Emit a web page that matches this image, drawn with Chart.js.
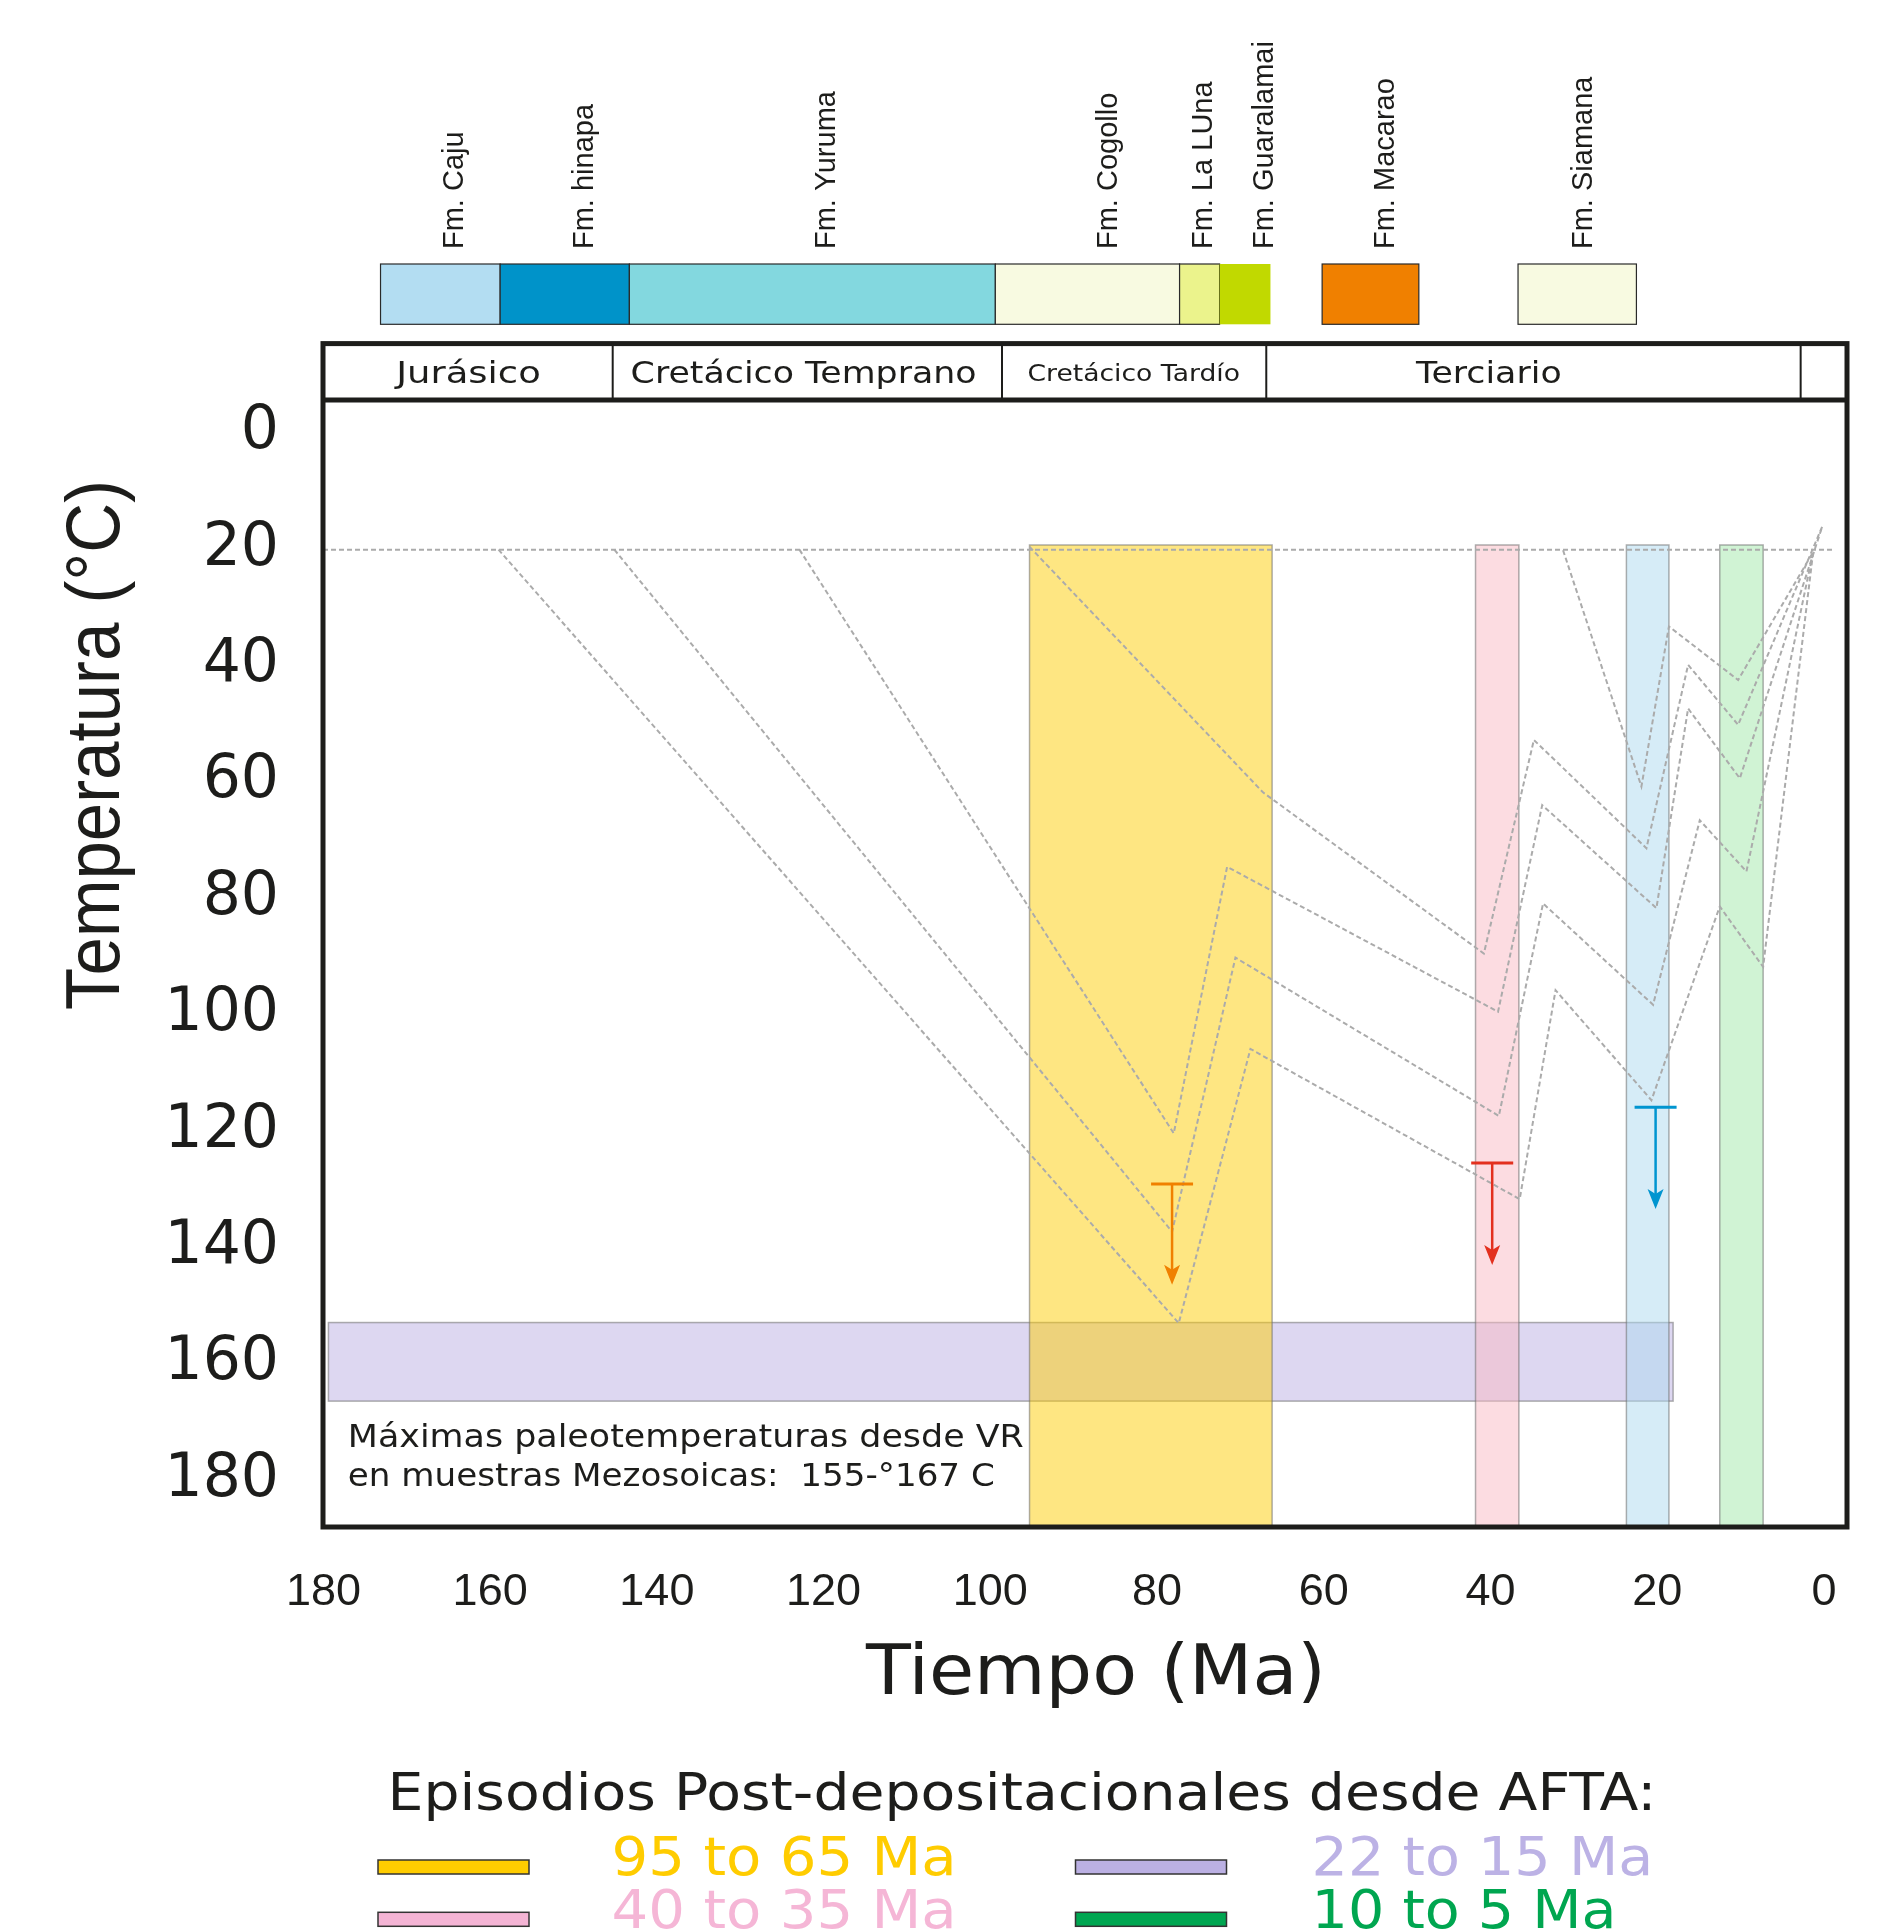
<!DOCTYPE html>
<html>
<head>
<meta charset="utf-8">
<script src="https://cdn.jsdelivr.net/npm/chart.js@4.4.0/dist/chart.umd.min.js"></script>
<style>
  html, body { margin: 0; padding: 0; background: #fff; }
  #wrap { width: 1899px; height: 1931px; }
</style>
</head>
<body>
<div id="wrap"><canvas id="chart" width="1899" height="1931"></canvas></div>
<script>
// ticks
const xTicks = [180, 160, 140, 120, 100, 80, 60, 40, 20, 0];
const yTicks = [0, 20, 40, 60, 80, 100, 120, 140, 160, 180];

// superficie (20 °C)
const surfaceAge = [180.05, -1.3];
const surfaceTemp = [20.8, 20.8];

// trayectorias termicas (edad Ma / temperatura °C)
const pathA_age  = [159.0, 77.4, 68.8, 36.5, 32.2, 20.7, 12.5, 7.3, 1.3];
const pathA_temp = [20.8, 153.7, 106.6, 132.4, 96.5, 115.4, 82.1, 92.5, 21.2];
const pathB_age  = [145.1, 78.2, 70.6, 39.0, 33.7, 20.5, 14.9, 9.3, 1.3];
const pathB_temp = [20.8, 138.0, 90.9, 118.1, 81.6, 99.0, 67.3, 76.1, 21.2];
const pathC_age  = [122.9, 78.0, 71.6, 39.1, 33.8, 20.1, 16.3, 10.1, 0.2];
const pathC_temp = [20.8, 121.1, 75.3, 100.2, 64.7, 82.4, 48.1, 60.1, 16.8];
const pathD_age  = [95.3, 67.3, 40.8, 34.8, 21.3, 16.3, 10.3, 0.2];
const pathD_temp = [20.3, 62.5, 90.2, 53.5, 72.1, 40.6, 50.9, 16.8];
const pathE_age  = [31.3, 21.9, 18.6, 10.3, 1.3];
const pathE_temp = [20.9, 61.5, 34.0, 43.2, 21.2];

// episodios AFTA (bandas verticales)
const bandFrom = [95.3, 41.8, 23.7, 12.5];
const bandTo   = [66.2, 36.6, 18.6, 7.3];
const bandTopTemp = 20;
const bandColors = ['rgba(252,204,0,0.49)', 'rgba(250,185,195,0.5)', 'rgba(173,217,239,0.5)', 'rgba(161,231,169,0.5)'];

// maximas paleotemperaturas VR
const vrAge = [179.4, 18.1];
const vrTemp = [153.6, 167.1];

// flechas (temperatura minima)
const arrowAge = [78.2, 39.8, 20.2];
const arrowTop = [129.8, 126.2, 116.6];
const arrowTip = [147.1, 143.7, 134.1];
const arrowColors = ['#F08000', '#E3301E', '#0095D0'];

// periodos
const periodNames  = ['Jurásico', 'Cretácico Temprano', 'Cretácico Tardío', 'Terciario'];
const periodBounds = [180.05, 145.3, 98.6, 66.9, 2.8, -2.76];
const periodLabelAt = [162.6, 122.4, 82.8, 40.2];

// formaciones
const formationNames = ['Fm. Caju', 'Fm. hinapa', 'Fm. Yuruma', 'Fm. Cogollo', 'Fm. La LUna', 'Fm. Guaralamai', 'Fm. Macarao', 'Fm. Siamana'];
const formationFrom = [173.15, 158.8, 143.3, 99.4, 77.3, 72.5, 60.2, 36.7];
const formationTo   = [158.8, 143.3, 99.4, 77.3, 72.5, 66.4, 48.6, 22.5];
const formationLabelAt = [163.2, 147.7, 118.6, 84.8, 73.4, 66.1, 51.6, 27.8];
const formationColors = ['#B3DDF2', '#0093C9', '#83D8DF', '#F8FAE1', '#EBF38C', '#C1D900', '#F08000', '#F8FAE1'];

// leyenda
const legendLabels = ['95 to 65 Ma', '22 to 15 Ma', '40 to 35 Ma', '10 to 5 Ma'];
const legendTextColors = ['#FFCC00', '#BCB2E5', '#F5B6D6', '#00A650'];
const legendSwatchColors = ['#FFCC00', '#BBB0E3', '#F4B4D4', '#00A651'];

const INK = '#1d1d1b';

function pts(ages, temps) {
    return ages.map((a, i) => ({ x: a, y: temps[i] }));
}

function dashed(ages, temps) {
    return {
        data: pts(ages, temps),
        showLine: true,
        borderColor: '#ABABAB',
        borderWidth: 2,
        borderDash: [5, 3],
        pointRadius: 0,
        tension: 0
    };
}

// texto ajustado a un ancho dado
function fitText(ctx, text, x, y, size, family, width, align, rot) {
    ctx.save();
    ctx.font = size + 'px "' + family + '"';
    const w = ctx.measureText(text).width;
    const k = width ? width / w : 1;
    ctx.translate(x, y);
    if (rot) ctx.rotate(rot);
    ctx.scale(k, 1);
    ctx.textAlign = align || 'left';
    ctx.textBaseline = 'alphabetic';
    ctx.fillText(text, 0, 0);
    ctx.restore();
}

const bandsPlugin = {
    id: 'bands',
    beforeDatasetsDraw(chart) {
        const ctx = chart.ctx;
        const xs = chart.scales.x, ys = chart.scales.y;
        const area = chart.chartArea;
        ctx.save();
        ctx.beginPath();
        ctx.rect(area.left, area.top, area.right - area.left, area.bottom - area.top);
        ctx.clip();

        // banda VR
        let x1 = xs.getPixelForValue(vrAge[0]), x2 = xs.getPixelForValue(vrAge[1]);
        let y1 = ys.getPixelForValue(vrTemp[0]), y2 = ys.getPixelForValue(vrTemp[1]);
        ctx.fillStyle = 'rgba(187,176,227,0.5)';
        ctx.fillRect(x1, y1, x2 - x1, y2 - y1);
        ctx.strokeStyle = 'rgba(110,110,110,0.55)';
        ctx.lineWidth = 1.5;
        ctx.strokeRect(x1, y1, x2 - x1, y2 - y1);

        // bandas verticales
        const top = ys.getPixelForValue(bandTopTemp);
        for (let i = 0; i < bandFrom.length; i++) {
            const a = xs.getPixelForValue(bandFrom[i]);
            const b = xs.getPixelForValue(bandTo[i]);
            ctx.fillStyle = bandColors[i];
            ctx.fillRect(a, top, b - a, area.bottom - top);
            ctx.strokeStyle = 'rgba(110,110,110,0.55)';
            ctx.lineWidth = 1.5;
            ctx.strokeRect(a, top, b - a, area.bottom - top + 5);
        }
        ctx.restore();
    },
    afterDatasetsDraw(chart) {
        const ctx = chart.ctx;
        const xs = chart.scales.x, ys = chart.scales.y;
        const area = chart.chartArea;

        // flechas
        for (let i = 0; i < arrowAge.length; i++) {
            const x = xs.getPixelForValue(arrowAge[i]);
            const yt = ys.getPixelForValue(arrowTop[i]);
            const yb = ys.getPixelForValue(arrowTip[i]);
            ctx.save();
            ctx.strokeStyle = arrowColors[i];
            ctx.fillStyle = arrowColors[i];
            ctx.lineWidth = 3;
            ctx.beginPath();
            ctx.moveTo(x - 21, yt);
            ctx.lineTo(x + 21, yt);
            ctx.stroke();
            ctx.lineWidth = 2.5;
            ctx.beginPath();
            ctx.moveTo(x, yt);
            ctx.lineTo(x, yb - 12);
            ctx.stroke();
            ctx.beginPath();
            ctx.moveTo(x - 8, yb - 20);
            ctx.lineTo(x, yb - 15);
            ctx.lineTo(x + 8, yb - 20);
            ctx.lineTo(x, yb);
            ctx.closePath();
            ctx.fill();
            ctx.restore();
        }

        // marco
        const headTop = 343.6;
        ctx.save();
        ctx.strokeStyle = INK;
        ctx.lineWidth = 5;
        ctx.strokeRect(area.left, headTop, area.right - area.left, area.bottom - headTop);
        ctx.beginPath();
        ctx.moveTo(area.left, area.top);
        ctx.lineTo(area.right, area.top);
        ctx.stroke();
        ctx.lineWidth = 2;
        for (let i = 1; i < periodBounds.length - 1; i++) {
            const x = xs.getPixelForValue(periodBounds[i]);
            ctx.beginPath();
            ctx.moveTo(x, headTop);
            ctx.lineTo(x, area.top);
            ctx.stroke();
        }
        ctx.fillStyle = INK;
        const pSize = [31, 31, 23, 31];
        const pWidth = [144.6, 346, 212.5, 145.6];
        for (let i = 0; i < periodNames.length; i++) {
            const x = xs.getPixelForValue(periodLabelAt[i]);
            fitText(ctx, periodNames[i], x, i === 2 ? 381 : 383, pSize[i], 'DejaVu Sans', pWidth[i], 'center');
        }
        ctx.restore();

        // formaciones
        ctx.save();
        for (let i = 0; i < formationNames.length; i++) {
            const a = xs.getPixelForValue(formationFrom[i]);
            const b = xs.getPixelForValue(formationTo[i]);
            ctx.fillStyle = formationColors[i];
            ctx.fillRect(a, 264, b - a, 60.3);
            if (formationNames[i] !== 'Fm. Guaralamai') {
                ctx.strokeStyle = '#2a2a2a';
                ctx.lineWidth = 1.2;
                ctx.strokeRect(a, 264, b - a, 60.3);
            }
            ctx.fillStyle = INK;
            ctx.font = '29px "Liberation Sans"';
            ctx.save();
            ctx.translate(xs.getPixelForValue(formationLabelAt[i]), 249);
            ctx.rotate(-Math.PI / 2);
            ctx.textAlign = 'left';
            ctx.textBaseline = 'alphabetic';
            ctx.fillText(formationNames[i], 0, 0);
            ctx.restore();
        }
        ctx.restore();

        // textos
        ctx.save();
        ctx.fillStyle = INK;
        fitText(ctx, 'Máximas paleotemperaturas desde VR', 347.8, 1446.7, 32, 'DejaVu Sans', 676, 'left');
        fitText(ctx, 'en muestras Mezosoicas:  155-°167 C', 347.8, 1486, 32, 'DejaVu Sans', 647, 'left');
        fitText(ctx, 'Temperatura (°C)', 119, 745, 76, 'Liberation Sans', 530, 'center', -Math.PI / 2);
        fitText(ctx, 'Tiempo (Ma)', 1096, 1693.5, 69, 'DejaVu Sans', 460, 'center');
        fitText(ctx, 'Episodios Post-depositacionales desde AFTA:', 387.5, 1810, 51, 'DejaVu Sans', 1269, 'left');

        // leyenda
        const sw = [[378, 1860], [1075.5, 1860], [378, 1912.3], [1075.5, 1912.3]];
        const tx = [[611.6, 1875, 345], [1311.6, 1875, 341.6], [611.6, 1928, 345], [1311.6, 1928, 305]];
        for (let i = 0; i < legendLabels.length; i++) {
            ctx.fillStyle = legendSwatchColors[i];
            ctx.fillRect(sw[i][0], sw[i][1], 151, 14);
            ctx.strokeStyle = '#333';
            ctx.lineWidth = 1.5;
            ctx.strokeRect(sw[i][0], sw[i][1], 151, 14);
            ctx.fillStyle = legendTextColors[i];
            fitText(ctx, legendLabels[i], tx[i][0], tx[i][1], 52.5, 'DejaVu Sans', tx[i][2], 'left');
        }
        ctx.restore();
    }
};

const ctx = document.getElementById('chart').getContext('2d');

const chart = new Chart(ctx, {
    type: 'scatter',
    data: {
        datasets: [
            dashed(surfaceAge, surfaceTemp),
            dashed(pathA_age, pathA_temp),
            dashed(pathB_age, pathB_temp),
            dashed(pathC_age, pathC_temp),
            dashed(pathD_age, pathD_temp),
            dashed(pathE_age, pathE_temp)
        ]
    },
    options: {
        responsive: false,
        animation: false,
        devicePixelRatio: 1,
        layout: { padding: { top: 400, right: 52, left: 0, bottom: 0 } },
        plugins: {
            legend: { display: false },
            tooltip: { enabled: false }
        },
        scales: {
            x: {
                type: 'linear',
                reverse: true,
                min: -2.76,
                max: 180.05,
                grid: { display: false },
                border: { display: false },
                afterBuildTicks: s => { s.ticks = xTicks.map(v => ({ value: v })); },
                afterFit: s => { s.height = 404; },
                ticks: {
                    font: { family: "'Liberation Sans'", size: 45 },
                    color: INK,
                    padding: 31,
                    maxRotation: 0,
                    autoSkip: false
                }
            },
            y: {
                type: 'linear',
                reverse: true,
                min: -4.91,
                max: 188.73,
                grid: { display: false },
                border: { display: false },
                afterBuildTicks: s => { s.ticks = yTicks.map(v => ({ value: v })); },
                afterFit: s => { s.width = 323; },
                ticks: {
                    font: { family: "'DejaVu Sans'", size: 60 },
                    color: INK,
                    padding: 36,
                    labelOffset: 4,
                    autoSkip: false
                }
            }
        }
    },
    plugins: [bandsPlugin]
});
</script>
</body>
</html>
